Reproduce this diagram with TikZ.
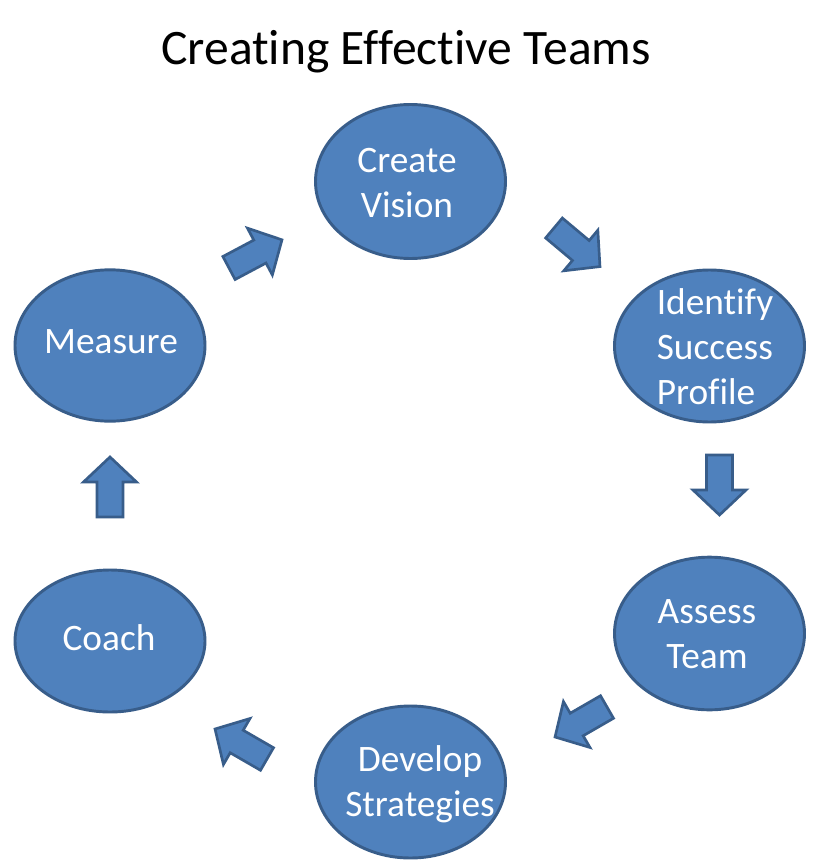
\documentclass[tikz,border=0pt]{standalone}
\usepackage{fontspec}
\setmainfont[Ligatures=NoCommon]{Carlito}
\definecolor{fillblue}{HTML}{4F81BD}
\definecolor{edgeblue}{HTML}{385D8A}
\tikzset{
  ell/.style={ellipse, draw=edgeblue, fill=fillblue, line width=2.2pt, inner sep=0pt},
  lbl/.style={text=white, font=\fontsize{28}{33.5}\selectfont, align=center, inner sep=0pt},
  blk/.style={draw=edgeblue, fill=fillblue, line width=2pt, line join=miter},
}
\usetikzlibrary{shapes.geometric}
\newcommand\blockarr[3]{%
  \begin{scope}[shift={(#1,#2)}, rotate=#3]
    \draw[blk] (0,-13) -- (35,-13) -- (35,-26.5) -- (60,0) -- (35,26.5) -- (35,13) -- (0,13) -- cycle;
  \end{scope}}
\begin{document}
\begin{tikzpicture}[x=0.75pt,y=-0.75pt]
\useasboundingbox (0,0) rectangle (820,860);
\fill[white] (0,0) rectangle (820,860);
\node[font=\fontsize{37.2}{44}\selectfont, anchor=base] (title) at (406,64) {Creating Effective Teams};
\node[ell, minimum width=142.5pt, minimum height=115.5pt] (cv) at (410.5,181.5) {};
\node[ell, minimum width=142.5pt, minimum height=114pt] (isp) at (709.5,346) {};
\node[ell, minimum width=142.5pt, minimum height=114.5pt] (at) at (709.5,633.5) {};
\node[ell, minimum width=142.5pt, minimum height=114pt] (ds) at (410.5,782) {};
\node[ell, minimum width=142.5pt, minimum height=106.5pt] (co) at (110,641) {};
\node[ell, minimum width=142.5pt, minimum height=113.5pt] (me) at (110,345.5) {};
\node[lbl] (tcv) at (407,183) {Create\\Vision};
\node[lbl, align=left] (tisp) at (715,346.5) {Identify\\Success\\Profile};
\node[lbl] (tat) at (707,634) {Assess\\Team};
\node[lbl] (tds) at (420,784.5) {Develop\\Strategies};
\node[lbl] (tco) at (109,638) {Coach};
\node[lbl] (tme) at (111,341.5) {Measure};
\blockarr{229}{268}{28}
\blockarr{554}{228}{-40}
\blockarr{719.5}{455}{-90}
\blockarr{607}{707}{210}
\blockarr{267}{759}{150}
\blockarr{110}{517}{90}
\end{tikzpicture}
\end{document}
